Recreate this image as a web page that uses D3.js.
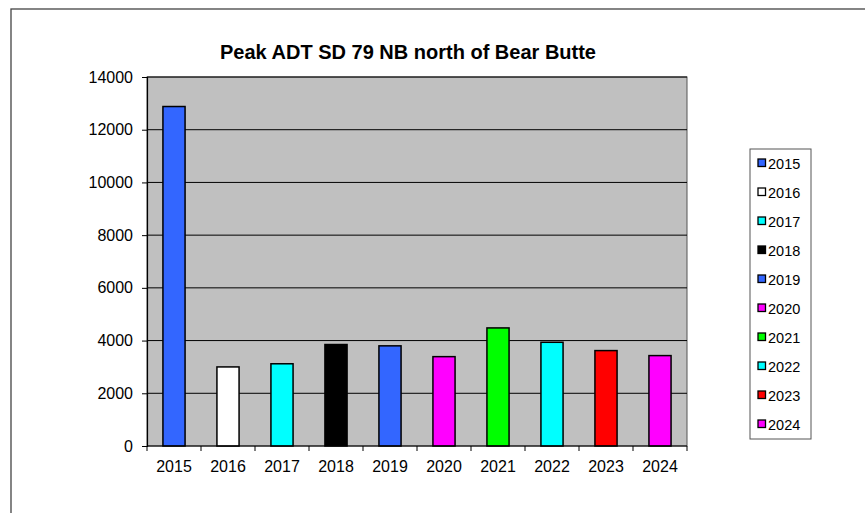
<!DOCTYPE html>
<html>
<head>
<meta charset="utf-8">
<script src="https://cdn.jsdelivr.net/npm/d3@7"></script>
<style>
html,body{margin:0;padding:0;background:#fff;}
svg{display:block;font-family:"Liberation Sans",Arial,sans-serif;}
</style>
</head>
<body>
<svg id="chart" width="865" height="513"></svg>
<script>
const categories = ["2015","2016","2017","2018","2019","2020","2021","2022","2023","2024"];
const values = [12880, 3000, 3120, 3850, 3800, 3390, 4480, 3935, 3620, 3430];
const colors = ["#3366FF","#FFFFFF","#00FFFF","#000000","#3366FF","#FF00FF","#00FF00","#00FFFF","#FF0000","#FF00FF"];
const yTicks = [0,2000,4000,6000,8000,10000,12000,14000];
const title = "Peak ADT SD 79 NB north of Bear Butte";

const svg = d3.select("#chart");
const plot = {left:147, top:77, right:687, bottom:446};

// outer frame
svg.append("rect").attr("x",11).attr("y",9).attr("width",870).attr("height",520)
  .attr("fill","#fff").attr("stroke","#444").attr("stroke-width",1.3);

const x = d3.scaleBand().domain(categories).range([plot.left, plot.right]).paddingInner(0.59).paddingOuter(0.295);
const y = d3.scaleLinear().domain([0,14000]).range([plot.bottom, plot.top]);

// plot area
svg.append("rect").attr("x",plot.left).attr("y",plot.top)
  .attr("width",plot.right-plot.left).attr("height",plot.bottom-plot.top)
  .attr("fill","#C0C0C0").attr("stroke","#555").attr("stroke-width",1);

// gridlines
svg.append("g").selectAll("line").data(yTicks.filter(d=>d>0)).join("line")
  .attr("x1",plot.left).attr("x2",plot.right)
  .attr("y1",d=>y(d)).attr("y2",d=>y(d))
  .attr("stroke","#000").attr("stroke-width",1);

// bars
svg.append("g").selectAll("rect").data(categories).join("rect")
  .attr("x",d=>x(d)).attr("width",x.bandwidth())
  .attr("y",(d,i)=>y(values[i])).attr("height",(d,i)=>y(0)-y(values[i]))
  .attr("fill",(d,i)=>colors[i]).attr("stroke","#000").attr("stroke-width",1.5);

// y axis
const yAxis = d3.axisLeft(y).tickValues(yTicks).tickSize(5).tickPadding(9).tickFormat(d3.format("d"));
const gy = svg.append("g").attr("transform",`translate(${plot.left},0)`).call(yAxis);
gy.select(".domain").attr("stroke","#000").attr("stroke-width",1.2);
gy.selectAll(".tick line").attr("stroke","#000");
gy.selectAll("text").attr("font-size",16).attr("fill","#000").attr("font-family","Liberation Sans, Arial, sans-serif");

// x axis
const xb = d3.scaleLinear().domain([0,categories.length]).range([plot.left, plot.right]);
const gx = svg.append("g").attr("transform",`translate(0,${plot.bottom})`);
gx.append("line").attr("x1",plot.left).attr("x2",plot.right).attr("stroke","#000").attr("stroke-width",1.2);
gx.selectAll("line.t").data(d3.range(categories.length+1)).join("line").attr("class","t")
  .attr("x1",d=>xb(d)).attr("x2",d=>xb(d)).attr("y1",0).attr("y2",5).attr("stroke","#000");
gx.selectAll("text").data(categories).join("text")
  .attr("x",d=>x(d)+x.bandwidth()/2).attr("y",26)
  .attr("text-anchor","middle").attr("font-size",16).attr("fill","#000").text(d=>d);

// title
svg.append("text").attr("x",408).attr("y",59).attr("text-anchor","middle")
  .attr("font-size",20).attr("font-weight","bold").attr("fill","#000").text(title);

// legend
const lg = svg.append("g");
lg.append("rect").attr("x",750).attr("y",149).attr("width",61).attr("height",290)
  .attr("fill","#fff").attr("stroke","#555").attr("stroke-width",1);
const items = lg.selectAll("g").data(categories).join("g")
  .attr("transform",(d,i)=>`translate(758,${163+i*29})`);
items.append("rect").attr("x",0).attr("y",-4).attr("width",7.5).attr("height",7.5)
  .attr("fill",(d,i)=>colors[i]).attr("stroke","#000").attr("stroke-width",1.3);
items.append("text").attr("x",10).attr("y",5.5).attr("font-size",14.5).attr("fill","#000").text(d=>d);
</script>
</body>
</html>
